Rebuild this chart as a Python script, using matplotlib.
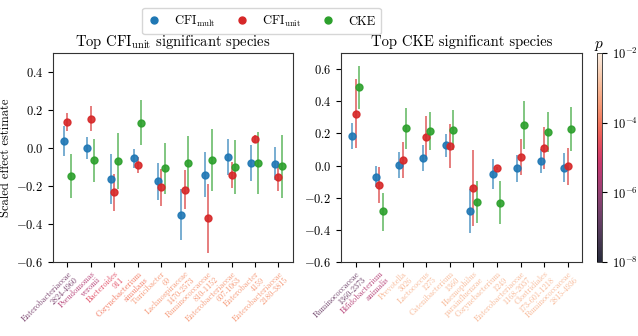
import numpy as np
import matplotlib
matplotlib.use("Agg")
import matplotlib.pyplot as plt
from matplotlib.colors import LogNorm
from matplotlib.lines import Line2D
import seaborn as sns

plt.rcParams['font.family'] = 'serif'
plt.rcParams['font.serif'] = ['cmr10']
plt.rcParams['mathtext.fontset'] = 'cm'
plt.rcParams['axes.formatter.use_mathtext'] = True
plt.rcParams['axes.unicode_minus'] = True

# ---------------- data ----------------
left_labels = ["Enterobacteriaceae\n2824-4960", "Pseudomonas\nveronii", "Bacteroides\n911",
               "Corynebacterium\nsimulans", "Turicibacter\n69", "Lachnospiraceae\n1470-2573",
               "Ruminococcaceae\n810-1152", "Enterobacteriaceae\n607-1063", "Enterobacter\n4159",
               "Enterobacteriaceae\n2180-3815"]
left_p = [3e-7, 3e-6, 2e-5, 1e-4, 3e-4, 3e-4, 3e-4, 3e-4, 3e-4, 3e-4]

left_mult = [0.038, -0.002, -0.163, -0.054, -0.172, -0.350, -0.141, -0.045, -0.080, -0.082]
left_mult_lo = [-0.040, -0.059, -0.292, -0.104, -0.271, -0.485, -0.259, -0.143, -0.174, -0.170]
left_mult_hi = [0.117, 0.056, -0.033, -0.007, -0.077, -0.214, -0.023, 0.050, 0.014, 0.007]

left_unit = [0.139, 0.155, -0.233, -0.089, -0.207, -0.219, -0.370, -0.141, 0.050, -0.150]
left_unit_lo = [0.090, 0.090, -0.332, -0.129, -0.306, -0.323, -0.550, -0.210, 0.028, -0.226]
left_unit_hi = [0.186, 0.219, -0.136, -0.049, -0.110, -0.115, -0.190, -0.075, 0.071, -0.080]

left_cke = [-0.146, -0.063, -0.068, 0.134, -0.106, -0.080, -0.061, -0.097, -0.080, -0.096]
left_cke_lo = [-0.263, -0.181, -0.216, 0.016, -0.240, -0.223, -0.228, -0.240, -0.242, -0.263]
left_cke_hi = [-0.030, 0.050, 0.078, 0.254, 0.026, 0.063, 0.101, 0.045, 0.085, 0.071]

right_labels = ["Ruminococcaceae\n1360-2373", "Bifidobacterium\nanimalis", "Prevotella\n3026",
                "Lactococcus\n1275", "Catenibacterium\n1360", "Haemophilus\nparainfluenzae",
                "Corynebacterium\n1249", "Enterobacteriaceae\n1168-2037", "Clostridiales\n173-601-1218",
                "Ruminococcaceae\n2815-4936"]
right_p = [2e-7, 3e-6, 1e-3, 1e-3, 1e-3, 1e-3, 1e-3, 1e-3, 1e-3, 1e-3]

right_mult = [0.184, -0.068, 0.004, 0.046, 0.126, -0.284, -0.050, -0.017, 0.029, -0.012]
right_mult_lo = [0.101, -0.135, -0.079, -0.035, 0.056, -0.420, -0.143, -0.101, -0.048, -0.101]
right_mult_hi = [0.267, 0.000, 0.085, 0.128, 0.195, -0.147, 0.039, 0.064, 0.106, 0.077]

right_unit = [0.323, -0.118, 0.037, 0.178, 0.122, -0.139, -0.017, 0.056, 0.112, -0.004]
right_unit_lo = [0.108, -0.230, -0.075, 0.043, -0.012, -0.375, -0.025, -0.056, -0.019, -0.118]
right_unit_hi = [0.536, -0.006, 0.147, 0.310, 0.259, 0.097, -0.009, 0.168, 0.242, 0.112]

right_cke = [0.487, -0.284, 0.232, 0.215, 0.219, -0.226, -0.230, 0.253, 0.209, 0.228]
right_cke_lo = [0.354, -0.404, 0.106, 0.097, 0.097, -0.358, -0.362, 0.104, 0.087, 0.091]
right_cke_hi = [0.619, -0.168, 0.360, 0.333, 0.346, -0.095, -0.095, 0.402, 0.333, 0.366]

series_names = [r"CFI$_\mathrm{mult}$", r"CFI$_\mathrm{unit}$", "CKE"]
series_colors = ["#1f77b4", "#d62728", "#2ca02c"]

# ---------------- plot ----------------
cmap = sns.color_palette("rocket", as_cmap=True)
norm = LogNorm(vmin=1e-8, vmax=1e-2)

fig = plt.figure(figsize=(6.38, 3.36), dpi=100)
ax1 = fig.add_axes([0.083, 0.220, 0.376, 0.622])
ax2 = fig.add_axes([0.5345, 0.220, 0.378, 0.622])
cax = fig.add_axes([0.9355, 0.220, 0.008, 0.622])

offsets = [-0.15, 0.0, 0.15]

def draw(ax, labels, pvals, groups, title, ylim, yticks):
    x = np.arange(len(labels))
    for (v, lo, hi), off, c in zip(groups, offsets, series_colors):
        v = np.array(v); lo = np.array(lo); hi = np.array(hi)
        ax.errorbar(x + off, v, yerr=[v - lo, hi - v], fmt='none', ecolor=c,
                    elinewidth=1.2, alpha=0.7, capsize=0)
        ax.plot(x + off, v, 'o', color=c, markersize=5, alpha=0.9, zorder=3)
    ax.set_xticks(x)
    ax.set_xticklabels(labels, rotation=45, ha='right', rotation_mode='anchor', fontsize=5.8,
                       linespacing=1.0)
    for lab, p in zip(ax.get_xticklabels(), pvals):
        lab.set_color(cmap(norm(p)))
        lab.set_alpha(0.85)
    ax.set_ylim(*ylim)
    ax.set_yticks(yticks)
    ax.set_title(title, fontsize=10.5, pad=5)
    ax.tick_params(axis='y', labelsize=9)
    ax.tick_params(axis='x', pad=2)
    for s in ax.spines.values():
        s.set_color('#333333')

draw(ax1, left_labels, left_p,
     [(left_mult, left_mult_lo, left_mult_hi),
      (left_unit, left_unit_lo, left_unit_hi),
      (left_cke, left_cke_lo, left_cke_hi)],
     r"Top CFI$_\mathrm{unit}$ significant species", (-0.6, 0.5),
     [-0.6, -0.4, -0.2, 0.0, 0.2, 0.4])
draw(ax2, right_labels, right_p,
     [(right_mult, right_mult_lo, right_mult_hi),
      (right_unit, right_unit_lo, right_unit_hi),
      (right_cke, right_cke_lo, right_cke_hi)],
     "Top CKE significant species", (-0.6, 0.7),
     [-0.6, -0.4, -0.2, 0.0, 0.2, 0.4, 0.6])
ax1.set_ylabel("Scaled effect estimate", fontsize=9)
ax1.yaxis.set_label_coords(-0.17, 0.5)

sm = plt.cm.ScalarMappable(norm=norm, cmap=cmap)
cb = fig.colorbar(sm, cax=cax, alpha=0.85)
cb.set_ticks([1e-8, 1e-6, 1e-4, 1e-2])
cb.ax.minorticks_off()
cb.ax.tick_params(labelsize=9)
cb.outline.set_linewidth(0.5)
cb.ax.set_title("$p$", fontsize=11, pad=1)

handles = [Line2D([], [], marker='o', linestyle='none', color=c, markersize=5)
           for c in series_colors]
fig.legend(handles, series_names, loc='upper center', bbox_to_anchor=(0.41, 0.995),
           ncol=3, fontsize=9, frameon=True, columnspacing=1.6, handlelength=1.0,
           handletextpad=1.1, borderpad=0.45)

fig.savefig("out.png", dpi=100)
